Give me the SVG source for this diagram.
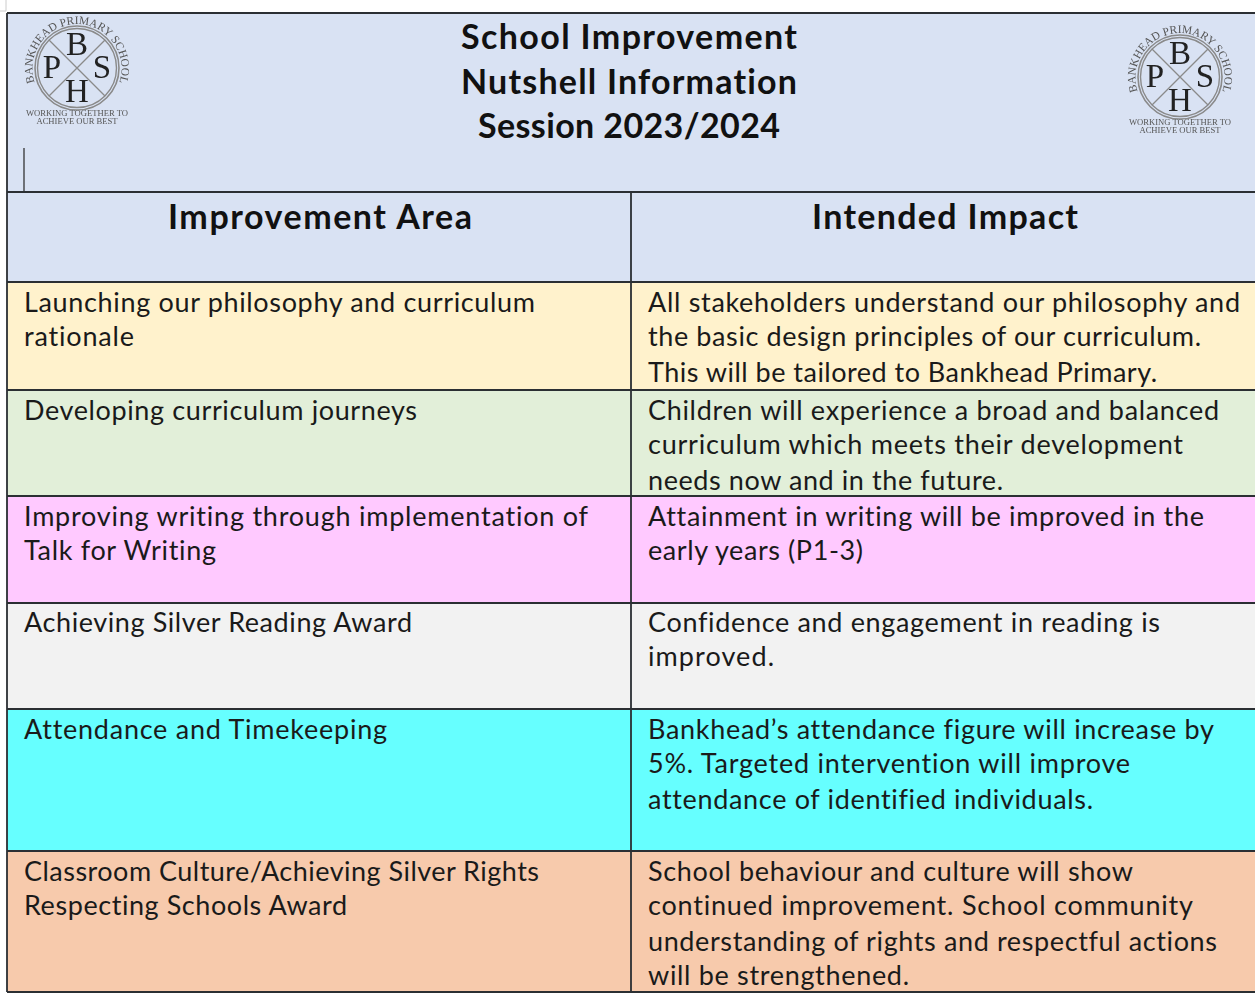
<svg xmlns="http://www.w3.org/2000/svg" width="1255" height="995" viewBox="0 0 1255 995">
<style>
text{font-family:"Lato","Liberation Sans",sans-serif;fill:#1a1a1a;font-variant-ligatures:none}
.b{font-size:27px}
.h{font-size:34px;font-weight:700;fill:#111}
.c{stroke:#2b2f33;stroke-width:1.8;fill:none}
.lg{font-family:"Liberation Serif",serif;text-anchor:middle}
.l1{font-size:33px;fill:#222}
.l2{font-size:11.5px;fill:#555}
.l3{font-size:8.6px;fill:#555}
.ring{fill:none;stroke:#8a8a8a}
</style>
<defs>
<filter id="soft" x="-10%" y="-10%" width="120%" height="120%"><feGaussianBlur stdDeviation=".45"/></filter>
<path id="arc" d="M-43 12A44.500 44.500 0 1 1 43 12"/>
<g id="logo" filter="url(#soft)">
<circle class="ring" r="42" stroke-width="1.6"/><circle class="ring" r="39.500" stroke-width="1.4"/>
<path d="M-28-28L28 28M28-28L-28 28" stroke="#8a8a8a" stroke-width="1.3"/>
<text class="lg l2"><textPath href="#arc" startOffset="50%">BANKHEAD PRIMARY SCHOOL</textPath></text>
<text class="lg l1" y="-13">B</text><text class="lg l1" x="-25" y="10">P</text><text class="lg l1" x="25" y="10">S</text><text class="lg l1" y="34">H</text>
<text class="lg l3" y="48">WORKING TOGETHER TO</text><text class="lg l3" y="56">ACHIEVE OUR BEST</text>
</g>
</defs>
<rect width="1255" height="995" fill="#fff"/>
<path d="M0 11H6V0" fill="none" stroke="#ccc"/>
<g id="title-row">
<rect x="7" y="13" width="1248" height="179" fill="#d9e2f3"/>
<use href="#logo" x="77" y="68"/>
<use href="#logo" x="1180" y="77"/>
<path d="M24 148V191" stroke="#333" stroke-width="1.3"/>
<text class="h" x="461" y="49" textLength="336">School Improvement</text>
<text class="h" x="461" y="94" textLength="336">Nutshell Information</text>
<text class="h" x="478" y="138" textLength="302">Session 2023/2024</text>
</g>
<g id="header-row">
<rect x="7" y="192" width="1248" height="90" fill="#d9e2f3"/>
<text class="h" x="168" y="229" textLength="304">Improvement Area</text>
<text class="h" x="812" y="229" textLength="266">Intended Impact</text>
</g>
<g id="row-1">
<rect x="7" y="282" width="1248" height="108" fill="#fff2cc"/>
<text class="b" x="24" y="312" textLength="511">Launching our philosophy and curriculum</text>
<text class="b" x="24" y="346" textLength="110">rationale</text>
<text class="b" x="648" y="312" textLength="592">All stakeholders understand our philosophy and</text>
<text class="b" x="648" y="346" textLength="553">the basic design principles of our curriculum.</text>
<text class="b" x="648" y="382" textLength="509">This will be tailored to Bankhead Primary.</text>
</g>
<g id="row-2">
<rect x="7" y="390" width="1248" height="106" fill="#e2efd9"/>
<text class="b" x="24" y="420" textLength="393">Developing curriculum journeys</text>
<text class="b" x="648" y="420" textLength="571">Children will experience a broad and balanced</text>
<text class="b" x="648" y="454" textLength="535">curriculum which meets their development</text>
<text class="b" x="648" y="490" textLength="355">needs now and in the future.</text>
</g>
<g id="row-3">
<rect x="7" y="496" width="1248" height="107" fill="#ffc9ff"/>
<text class="b" x="24" y="526" textLength="564">Improving writing through implementation of</text>
<text class="b" x="24" y="560" textLength="192">Talk for Writing</text>
<text class="b" x="648" y="526" textLength="556">Attainment in writing will be improved in the</text>
<text class="b" x="648" y="560" textLength="215">early years (P1-3)</text>
</g>
<g id="row-4">
<rect x="7" y="603" width="1248" height="106" fill="#f2f2f2"/>
<text class="b" x="24" y="632" textLength="388">Achieving Silver Reading Award</text>
<text class="b" x="648" y="632" textLength="512">Confidence and engagement in reading is</text>
<text class="b" x="648" y="666" textLength="126">improved.</text>
</g>
<g id="row-5">
<rect x="7" y="709" width="1248" height="142" fill="#66ffff"/>
<text class="b" x="24" y="739" textLength="363">Attendance and Timekeeping</text>
<text class="b" x="648" y="739" textLength="566">Bankhead’s attendance figure will increase by</text>
<text class="b" x="648" y="773" textLength="482">5%. Targeted intervention will improve</text>
<text class="b" x="648" y="809" textLength="445">attendance of identified individuals.</text>
</g>
<g id="row-6">
<rect x="7" y="851" width="1248" height="141" fill="#f7caac"/>
<text class="b" x="24" y="881" textLength="515">Classroom Culture/Achieving Silver Rights</text>
<text class="b" x="24" y="915" textLength="323">Respecting Schools Award</text>
<text class="b" x="648" y="881" textLength="485">School behaviour and culture will show</text>
<text class="b" x="648" y="915" textLength="545">continued improvement. School community</text>
<text class="b" x="648" y="951" textLength="569">understanding of rights and respectful actions</text>
<text class="b" x="648" y="985" textLength="261">will be strengthened.</text>
</g>
<g id="connectors">
<path class="c" d="M7 13H1255M7 192H1255M7 282H1255M7 390H1255M7 496H1255M7 603H1255M7 709H1255M7 851H1255M7 992H1255M7 13V992M631 192V992"/>
</g>
</svg>
